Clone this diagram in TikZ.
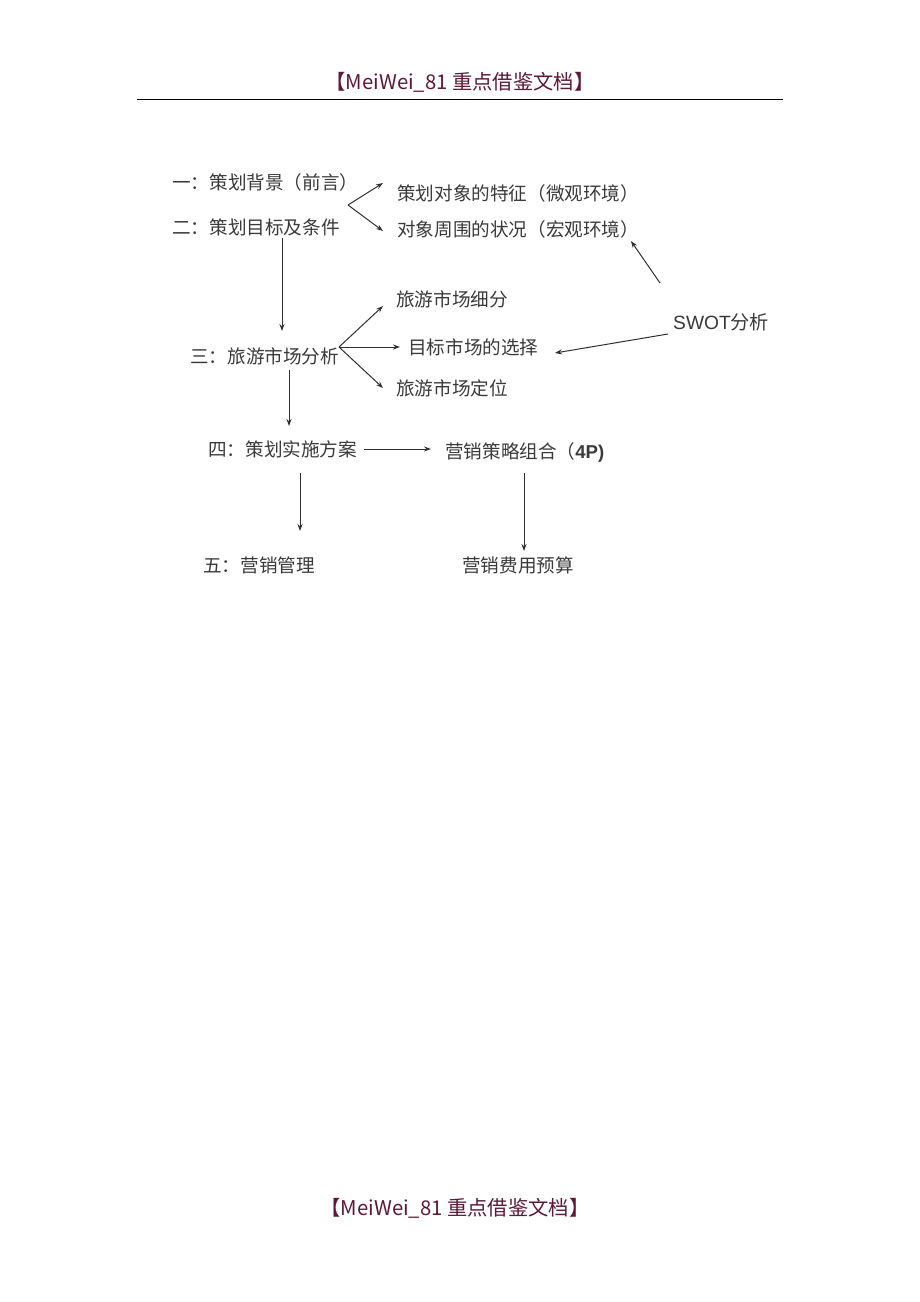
\documentclass[tikz,border=0pt]{standalone}
\usepackage{fontspec}
\setmainfont{Noto Sans CJK SC}
\newfontfamily\latinf{Liberation Sans}
\usetikzlibrary{arrows.meta}
\definecolor{hdr}{HTML}{5E1838}
\definecolor{txt}{HTML}{3A3A3A}
\definecolor{ln}{HTML}{303030}
\begin{document}
\begin{tikzpicture}[x=1pt,y=-1pt,
  lbl/.style={anchor=west,inner sep=0pt,text=txt,font=\fontsize{18.6}{22}\selectfont},
  hd/.style={inner sep=0pt,text=hdr,font=\fontsize{20.3}{24}\selectfont},
  arr/.style={draw=ln,line width=1pt,-{Stealth[length=7pt,width=5pt]}}]
\useasboundingbox[fill=white] (0,0) rectangle (920,1302);
% header / footer
\node[hd] (head) at (460,82) {【MeiWei\_81 重点借鉴文档】};
\coordinate (hl) at (137,99);
\coordinate (hr) at (783,99);
\draw[line width=1pt,black] (hl) -- (hr);
\node[hd] (foot) at (455,1208) {【MeiWei\_81 重点借鉴文档】};
% texts
\node[lbl] (a1) at (172,182) {一：策划背景（前言）};
\node[lbl] (a2) at (172,227) {二：策划目标及条件};
\node[lbl] (m1) at (397,193) {策划对象的特征（微观环境）};
\node[lbl] (m2) at (397,229) {对象周围的状况（宏观环境）};
\node[lbl,font=\fontsize{19.2}{22}\selectfont] (sw) at (673,322) {{\latinf SWOT}分析};
\node[lbl] (a3) at (190,356) {三：旅游市场分析};
\node[lbl] (s1) at (396,299) {旅游市场细分};
\node[lbl] (s2) at (408,347) {目标市场的选择};
\node[lbl] (s3) at (396,388) {旅游市场定位};
\node[lbl] (a4) at (208,449) {四：策划实施方案};
\node[lbl] (p4) at (445,452) {营销策略组合（{\latinf\bfseries 4P)}};
\node[lbl] (a5) at (203,565) {五：营销管理};
\node[lbl] (bd) at (462,565) {营销费用预算};
% connector points
\coordinate (v1) at (348,205);
\coordinate (t1) at (383,183);
\coordinate (t2) at (383,231);
\coordinate (sa) at (660,283);
\coordinate (ta) at (631,241);
\coordinate (d1s) at (282,238);
\coordinate (d1e) at (282,331);
\coordinate (v3) at (339,347);
\coordinate (u1) at (383,306);
\coordinate (u2) at (400,347);
\coordinate (u3) at (383,388);
\coordinate (sb) at (668,334);
\coordinate (tb) at (555,353);
\coordinate (d2s) at (289,370);
\coordinate (d2e) at (289,426);
\coordinate (h1) at (364,449);
\coordinate (h2) at (431,449);
\coordinate (d3s) at (300,473);
\coordinate (d3e) at (300,531);
\coordinate (d4s) at (524,473);
\coordinate (d4e) at (524,551);
% connectors
\draw[arr] (v1) -- (t1);
\draw[arr] (v1) -- (t2);
\draw[arr] (sa) -- (ta);
\draw[arr] (d1s) -- (d1e);
\draw[arr] (v3) -- (u1);
\draw[arr] (v3) -- (u2);
\draw[arr] (v3) -- (u3);
\draw[arr] (sb) -- (tb);
\draw[arr] (d2s) -- (d2e);
\draw[arr] (h1) -- (h2);
\draw[arr] (d3s) -- (d3e);
\draw[arr] (d4s) -- (d4e);
\end{tikzpicture}
\end{document}
